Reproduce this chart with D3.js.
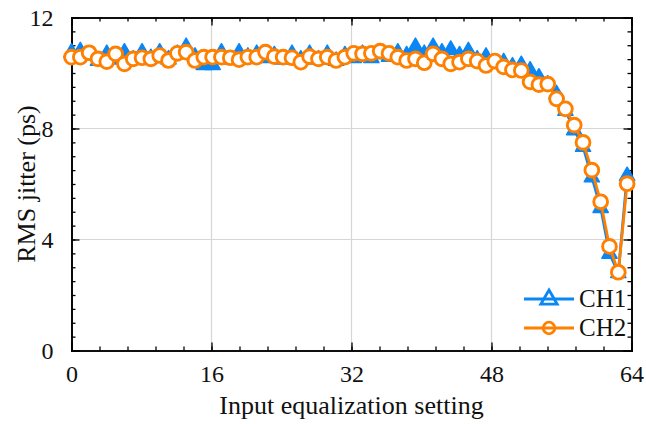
<!DOCTYPE html>
<html>
<head>
<meta charset="utf-8">
<script src="https://cdn.jsdelivr.net/npm/d3@7"></script>
<style>
  html, body { margin: 0; padding: 0; background: #fff; }
  svg { display: block; }
  text { font-family: 'Liberation Serif', 'Times New Roman', serif; fill: #111; }
</style>
</head>
<body>
<svg id="chart" width="646" height="424"></svg>
<script>
// equalization settings 0..63
var settings = d3.range(64)

var ch1 = [
	10.75, 10.8, 10.65, 10.45, 10.7, 10.5, 10.75, 10.5, 10.75, 10.55,
	10.75, 10.5, 10.7, 10.95, 10.6, 10.3, 10.3, 10.75, 10.5, 10.75,
	10.6, 10.7, 10.55, 10.65, 10.5, 10.7, 10.5, 10.7, 10.5, 10.7,
	10.45, 10.65, 10.55, 10.7, 10.55, 10.7, 10.6, 10.75, 10.65, 10.95,
	10.7, 10.95, 10.75, 10.85, 10.65, 10.8, 10.5, 10.6, 10.35, 10.4,
	10.25, 10.3, 10.1, 9.85, 9.6, 9.25, 8.65, 7.95, 7.35, 6.25,
	5.15, 3.5, 2.8, 6.3
]

var ch2 = [
	10.57, 10.57, 10.73, 10.51, 10.41, 10.69, 10.33, 10.51, 10.55, 10.51,
	10.63, 10.45, 10.71, 10.75, 10.45, 10.57, 10.57, 10.57, 10.55, 10.48,
	10.57, 10.57, 10.75, 10.59, 10.57, 10.55, 10.39, 10.59, 10.51, 10.57,
	10.45, 10.57, 10.71, 10.69, 10.71, 10.79, 10.71, 10.57, 10.45, 10.51,
	10.37, 10.69, 10.51, 10.33, 10.39, 10.51, 10.43, 10.27, 10.43, 10.22,
	10.11, 10.09, 9.68, 9.58, 9.6, 9.07, 8.71, 8.12, 7.5, 6.5,
	5.36, 3.75, 2.82, 6.01
]

var xTicks = [0, 16, 32, 48, 64]
var yTicks = [0, 4, 8, 12]

var seriesNames = ['CH1', 'CH2']

// Config
var blue = '#0a86f5'
var orange = '#ff8000'
var plotLeft = 71.5, plotRight = 631.5, plotTop = 17.5, plotBottom = 350.5

var svg = d3.select('#chart')

var x = d3.scaleLinear().domain([0, 64]).range([plotLeft, plotRight])
var y = d3.scaleLinear().domain([0, 12]).range([plotBottom, plotTop])
// points are spread a bit wider than the unit step
var xp = d3.scaleLinear().domain([0, 63]).range([x(0), x(63.5)])

// grid
svg.append('g')
	.selectAll('line')
	.data(xTicks.slice(1, -1))
	.join('line')
	.attr('x1', (d) => x(d)).attr('x2', (d) => x(d))
	.attr('y1', plotTop).attr('y2', plotBottom)
	.attr('stroke', '#d6d6d6').attr('stroke-width', 1.2)

svg.append('g')
	.selectAll('line')
	.data(yTicks.slice(1, -1))
	.join('line')
	.attr('x1', plotLeft).attr('x2', plotRight)
	.attr('y1', (d) => y(d)).attr('y2', (d) => y(d))
	.attr('stroke', '#d6d6d6').attr('stroke-width', 1.2)

// axes (ticks inward, box all round)
var xMinor = d3.range(0, 64.01, 3.2)
var yMinor = d3.range(0, 12.01, 0.5)

svg.append('g')
	.attr('transform', 'translate(0,' + plotBottom + ')')
	.call(d3.axisBottom(x).tickValues(xMinor).tickSize(-4).tickFormat(''))
svg.append('g')
	.attr('transform', 'translate(0,' + plotBottom + ')')
	.call(d3.axisBottom(x).tickValues(xTicks).tickSize(-8).tickPadding(14).tickFormat(d3.format('d')))
svg.append('g')
	.attr('transform', 'translate(0,' + plotTop + ')')
	.call(d3.axisTop(x).tickValues(xMinor).tickSize(-4).tickFormat(''))
svg.append('g')
	.attr('transform', 'translate(0,' + plotTop + ')')
	.call(d3.axisTop(x).tickValues(xTicks).tickSize(-8).tickFormat(''))

svg.append('g')
	.attr('transform', 'translate(' + plotLeft + ',0)')
	.call(d3.axisLeft(y).tickValues(yMinor).tickSize(-4).tickFormat(''))
svg.append('g')
	.attr('transform', 'translate(' + plotLeft + ',0)')
	.call(d3.axisLeft(y).tickValues(yTicks).tickSize(-8).tickPadding(18).tickFormat(d3.format('d')))
svg.append('g')
	.attr('transform', 'translate(' + plotRight + ',0)')
	.call(d3.axisRight(y).tickValues(yMinor).tickSize(-4).tickFormat(''))
svg.append('g')
	.attr('transform', 'translate(' + plotRight + ',0)')
	.call(d3.axisRight(y).tickValues(yTicks).tickSize(-8).tickFormat(''))

svg.selectAll('.domain').attr('stroke', '#000').attr('stroke-width', 1.6)
svg.selectAll('.tick line').attr('stroke', '#000').attr('stroke-width', 1.3)
svg.selectAll('.tick text')
	.style('font-family', "'Liberation Serif', serif")
	.style('font-size', '24px')
	.attr('fill', '#111')

// axis titles
svg.append('text')
	.attr('x', (plotLeft + plotRight) / 2)
	.attr('y', 414)
	.attr('text-anchor', 'middle')
	.style('font-size', '26px')
	.text('Input equalization setting')

svg.append('text')
	.attr('transform', 'translate(35,' + (plotTop + plotBottom) / 2 + ') rotate(-90)')
	.attr('text-anchor', 'middle')
	.style('font-size', '26px')
	.text('RMS jitter (ps)')

// markers
var tri = 'M0,-8.5L7.6,4.8L-7.6,4.8Z'

function drawSeries(values, colour, marker) {
	var g = svg.append('g')
	var line = d3.line()
		.x((d, i) => xp(settings[i]))
		.y((d) => y(d))
	g.append('path')
		.attr('d', line(values))
		.attr('fill', 'none')
		.attr('stroke', colour)
		.attr('stroke-width', 2.8)
		.attr('stroke-linejoin', 'round')

	if (marker === 'triangle') {
		g.selectAll('path.mk')
			.data(values)
			.join('path')
			.attr('class', 'mk')
			.attr('d', tri)
			.attr('transform', (d, i) => 'translate(' + xp(settings[i]) + ',' + y(d) + ')')
			.attr('fill', colour)
			.attr('stroke', colour)
			.attr('stroke-width', 1.5)
			.attr('stroke-linejoin', 'round')
	} else {
		g.selectAll('circle')
			.data(values)
			.join('circle')
			.attr('cx', (d, i) => xp(settings[i]))
			.attr('cy', (d) => y(d))
			.attr('r', 6.9)
			.attr('fill', '#fff')
			.attr('stroke', colour)
			.attr('stroke-width', 2.9)
	}
}

drawSeries(ch1, blue, 'triangle')
drawSeries(ch2, orange, 'circle')

// legend
var legend = svg.append('g').attr('transform', 'translate(524,0)')
var rows = [
	{ name: seriesNames[0], colour: blue, marker: 'triangle', yy: 299 },
	{ name: seriesNames[1], colour: orange, marker: 'circle', yy: 328 },
]
rows.forEach(function (r) {
	if (r.marker === 'triangle') {
		legend.append('path')
			.attr('d', 'M0,-9L8.2,5.2L-8.2,5.2Z')
			.attr('transform', 'translate(25,' + r.yy + ')')
			.attr('fill', '#fff')
			.attr('stroke', r.colour)
			.attr('stroke-width', 2.8)
	} else {
		legend.append('circle')
			.attr('cx', 25).attr('cy', r.yy).attr('r', 5.8)
			.attr('fill', '#fff')
			.attr('stroke', r.colour)
			.attr('stroke-width', 2.8)
	}
	legend.append('line')
		.attr('x1', 0).attr('x2', 50)
		.attr('y1', r.yy).attr('y2', r.yy)
		.attr('stroke', r.colour)
		.attr('stroke-width', 2.8)
	legend.append('text')
		.attr('x', 55)
		.attr('y', r.yy + 8)
		.style('font-size', '25px')
		.text(r.name)
})
</script>
</body>
</html>
